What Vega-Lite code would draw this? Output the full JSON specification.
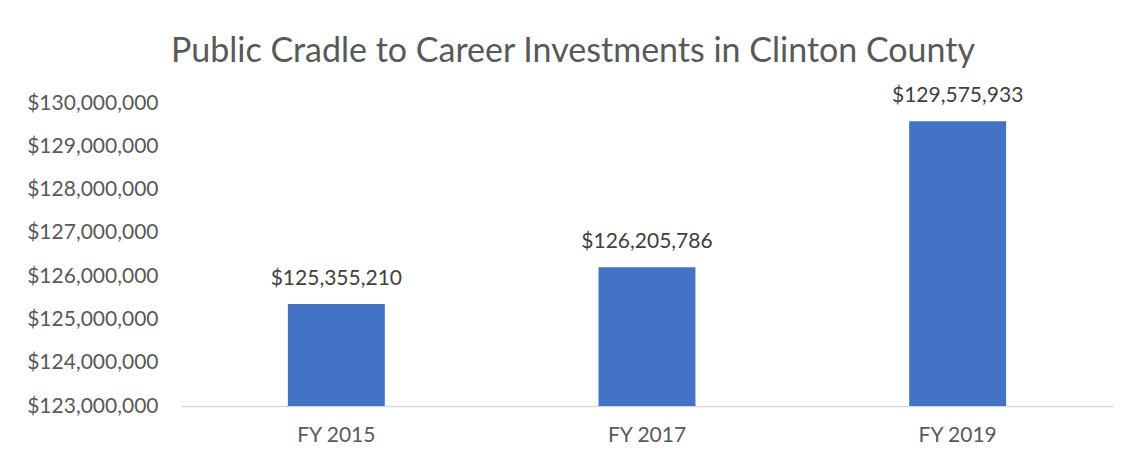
{
  "$schema": "https://vega.github.io/schema/vega-lite/v6.json",
  "width": 932,
  "height": 303,
  "autosize": {"type": "none"},
  "padding": {"left": 181, "top": 103, "right": 16, "bottom": 60},
  "background": "white",
  "title": {
    "text": "Public Cradle to Career Investments in Clinton County",
    "font": "Lato",
    "fontSize": 34,
    "fontWeight": "normal",
    "color": "#595959",
    "anchor": "middle",
    "dx": -74,
    "offset": 16
  },
  "data": {
    "values": [
      {"year": "FY 2015", "amount": 125355210},
      {"year": "FY 2017", "amount": 126205786},
      {"year": "FY 2019", "amount": 129575933}
    ]
  },
  "encoding": {
    "x": {
      "field": "year",
      "type": "nominal",
      "sort": null,
      "scale": {"paddingInner": 0.688, "paddingOuter": 0.344},
      "axis": {
        "title": null,
        "labelAngle": 0,
        "ticks": false,
        "domainColor": "#d9d9d9",
        "domainWidth": 1.5,
        "labelFont": "Lato",
        "labelFontSize": 21,
        "labelColor": "#595959",
        "labelPadding": 18
      }
    },
    "y": {
      "field": "amount",
      "type": "quantitative",
      "scale": {"domain": [123000000, 130000000], "zero": false, "nice": false},
      "axis": {
        "title": null,
        "values": [123000000, 124000000, 125000000, 126000000, 127000000, 128000000, 129000000, 130000000],
        "format": "$,.0f",
        "ticks": false,
        "domain": false,
        "grid": false,
        "labelFont": "Lato",
        "labelFontSize": 21,
        "labelColor": "#595959",
        "labelPadding": 23
      }
    }
  },
  "layer": [
    {"mark": {"type": "bar", "color": "#4472C4", "clip": true}},
    {
      "mark": {"type": "text", "font": "Lato", "fontSize": 21, "color": "#404040", "baseline": "alphabetic", "dy": -19},
      "encoding": {"text": {"field": "amount", "type": "quantitative", "format": "$,.0f"}}
    }
  ],
  "config": {"view": {"stroke": null}}
}
